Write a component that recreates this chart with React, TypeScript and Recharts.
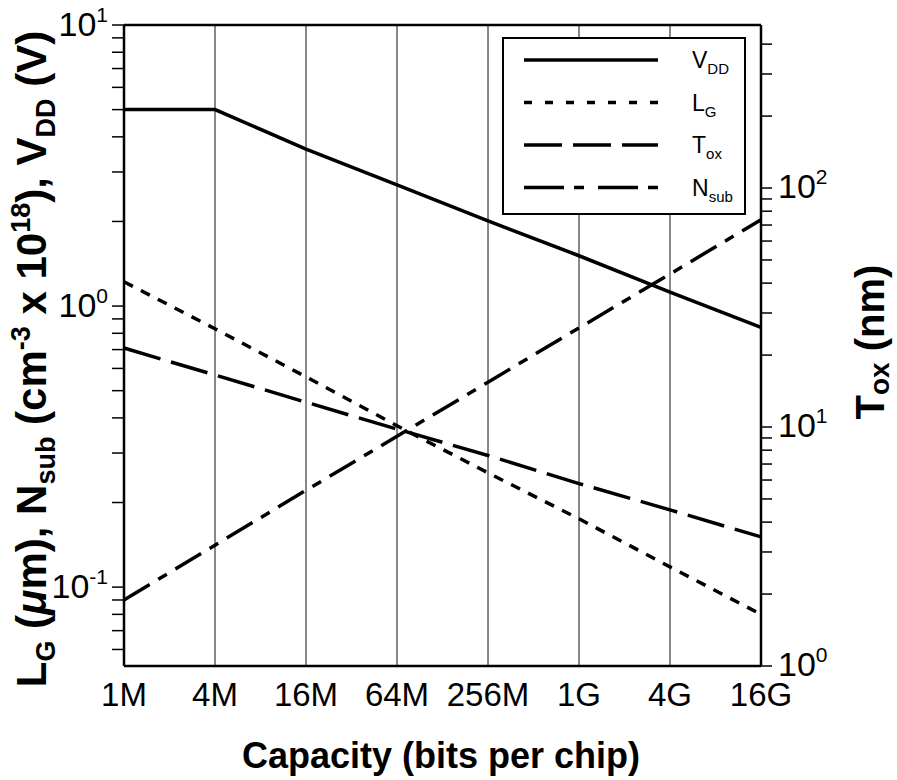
import React from 'react';
import { LineChart, Line, XAxis, YAxis, CartesianGrid, ReferenceLine, Legend } from 'recharts';

// ---- data ----
const capacities = ['1M', '4M', '16M', '64M', '256M', '1G', '4G', '16G'];
const vdd = [5.0, 5.0, 3.62, 2.7, 2.01, 1.51, 1.12, 0.84];
const lg = [1.22, 0.83, 0.56, 0.375, 0.255, 0.175, 0.118, 0.08];
const tox = [21.4, 16.5, 12.7, 9.8, 7.6, 5.8, 4.5, 3.47];
const nsub = [0.09, 0.141, 0.221, 0.344, 0.536, 0.836, 1.3, 2.03];

const leftTicks = [0.06, 0.07, 0.08, 0.09, 0.1, 0.2, 0.3, 0.4, 0.5, 0.6, 0.7, 0.8, 0.9, 1, 2, 3, 4, 5, 6, 7, 8, 9, 10];
const rightTicks = [1, 2, 3, 4, 5, 6, 7, 8, 9, 10, 20, 30, 40, 50, 60, 70, 80, 90, 100, 200, 300, 400];
const leftMajor = [0.1, 1, 10];
const leftMajorExp = ['-1', '0', '1'];
const rightMajor = [1, 10, 100];
const rightMajorExp = ['0', '1', '2'];

const data = capacities.map((c, i) => ({ cap: c, vdd: vdd[i], lg: lg[i], tox: tox[i], nsub: nsub[i] }));

const FONT = '"Liberation Sans", Arial, Helvetica, sans-serif';

const series = [
  { key: 'vdd', axis: 'left', main: 'V', sub: 'DD', dash: undefined as string | undefined, legendDash: undefined as string | undefined },
  { key: 'lg', axis: 'left', main: 'L', sub: 'G', dash: '10 9', legendDash: '8 13' },
  { key: 'tox', axis: 'right', main: 'T', sub: 'ox', dash: '38 11', legendDash: '38 11' },
  { key: 'nsub', axis: 'left', main: 'N', sub: 'sub', dash: '30 10 10 10', legendDash: '40 10 10 14' },
];

const LeftTick = (props: any) => {
  const { x, y, payload } = props;
  const idx = leftMajor.indexOf(payload.value);
  if (idx < 0) return null;
  return (
    <text x={x - 2} y={y + 11} textAnchor="end" fontFamily={FONT} fontSize={34} fill="#000">
      <tspan>10</tspan>
      <tspan dy={-14} fontSize={21}>{leftMajorExp[idx]}</tspan>
    </text>
  );
};

const RightTick = (props: any) => {
  const { x, y, payload } = props;
  const idx = rightMajor.indexOf(payload.value);
  if (idx < 0) return null;
  return (
    <text x={x + 4} y={y + 10} textAnchor="start" fontFamily={FONT} fontSize={34} fill="#000">
      <tspan>10</tspan>
      <tspan dy={-14} fontSize={21}>{rightMajorExp[idx]}</tspan>
    </text>
  );
};

const XTick = (props: any) => {
  const { x, y, payload } = props;
  return (
    <text x={x} y={y + 32} textAnchor="middle" fontFamily={FONT} fontSize={33} fill="#000">
      {payload.value}
    </text>
  );
};

const LeftLabel = () => (
  <text transform="translate(46,359) rotate(-90)" textAnchor="middle" fontFamily={FONT} fontWeight="bold" fontSize={42} fill="#000">
    <tspan>L</tspan>
    <tspan dy={9} fontSize={27}>G</tspan>
    <tspan dy={-9}> (</tspan>
    <tspan fontStyle="italic">μ</tspan>
    <tspan>m), N</tspan>
    <tspan dy={9} fontSize={27}>sub</tspan>
    <tspan dy={-9}> (cm</tspan>
    <tspan dy={-16} fontSize={27}>-3</tspan>
    <tspan dy={16}> x 10</tspan>
    <tspan dy={-16} fontSize={27}>18</tspan>
    <tspan dy={16}>), V</tspan>
    <tspan dy={9} fontSize={27}>DD</tspan>
    <tspan dy={-9}> (V)</tspan>
  </text>
);

const RightLabel = () => (
  <text transform="translate(884,342) rotate(-90)" textAnchor="middle" fontFamily={FONT} fontWeight="bold" fontSize={40} fill="#000">
    <tspan>T</tspan>
    <tspan dy={5} fontSize={28}>ox</tspan>
    <tspan dy={-5}> (nm)</tspan>
  </text>
);

const XLabel = () => (
  <text x={441} y={768} textAnchor="middle" fontFamily={FONT} fontWeight="bold" fontSize={36} fill="#000">
    Capacity (bits per chip)
  </text>
);

const LegendBox = () => (
  <svg width={244} height={178} style={{ display: 'block' }}>
    <rect x={1} y={1} width={242} height={176} fill="#fff" stroke="#000" strokeWidth={2} />
    {series.map((s, i) => {
      const yy = 23 + i * 42.5;
      return (
        <g key={s.key}>
          <line x1={22} x2={156} y1={yy} y2={yy} stroke="#000" strokeWidth={3.5} strokeDasharray={s.legendDash} />
          <text x={190} y={yy + 8} fontFamily={FONT} fontSize={23} fill="#000">
            <tspan>{s.main}</tspan>
            <tspan dy={6} fontSize={15}>{s.sub}</tspan>
          </text>
        </g>
      );
    })}
  </svg>
);

export default function App() {
  return (
    <div style={{ position: 'absolute', left: 0, top: 0, width: 897, height: 780, background: '#fff' }}>
      <LineChart width={897} height={780} data={data} margin={{ top: 25, right: 0, bottom: 0, left: 0 }}>
        <CartesianGrid horizontal={false} vertical={true} stroke="#111" strokeWidth={1} />
        <XAxis
          dataKey="cap"
          height={114}
          axisLine={{ stroke: '#000', strokeWidth: 2.5 }}
          tickLine={false}
          tick={<XTick />}
          interval={0}
          label={<XLabel />}
        />
        <YAxis
          yAxisId="left"
          orientation="left"
          scale="log"
          domain={[0.0524, 10]}
          ticks={leftTicks}
          allowDataOverflow
          width={124}
          axisLine={{ stroke: '#000', strokeWidth: 2.5 }}
          tickLine={{ stroke: '#000', strokeWidth: 1.5 }}
          tickSize={12}
          tick={<LeftTick />}
          interval={0}
          label={<LeftLabel />}
        />
        <YAxis
          yAxisId="right"
          orientation="right"
          scale="log"
          domain={[1, 481]}
          ticks={rightTicks}
          allowDataOverflow
          width={136}
          axisLine={{ stroke: '#000', strokeWidth: 2.5 }}
          tickLine={{ stroke: '#000', strokeWidth: 1.5 }}
          tickSize={11}
          tick={<RightTick />}
          interval={0}
          label={<RightLabel />}
        />
        <ReferenceLine yAxisId="left" y={10} stroke="#000" strokeWidth={2.5} />
        {series.map((s) => (
          <Line
            key={s.key}
            yAxisId={s.axis}
            dataKey={s.key}
            type="linear"
            stroke="#000"
            strokeWidth={3.5}
            strokeDasharray={s.dash}
            dot={false}
            activeDot={false}
            isAnimationActive={false}
          />
        ))}
        <Legend
          layout="vertical"
          align="center"
          verticalAlign="middle"
          content={<LegendBox />}
          wrapperStyle={{ position: 'absolute', left: 502, top: 37, width: 244, height: 178, margin: 0 }}
        />
      </LineChart>
    </div>
  );
}
